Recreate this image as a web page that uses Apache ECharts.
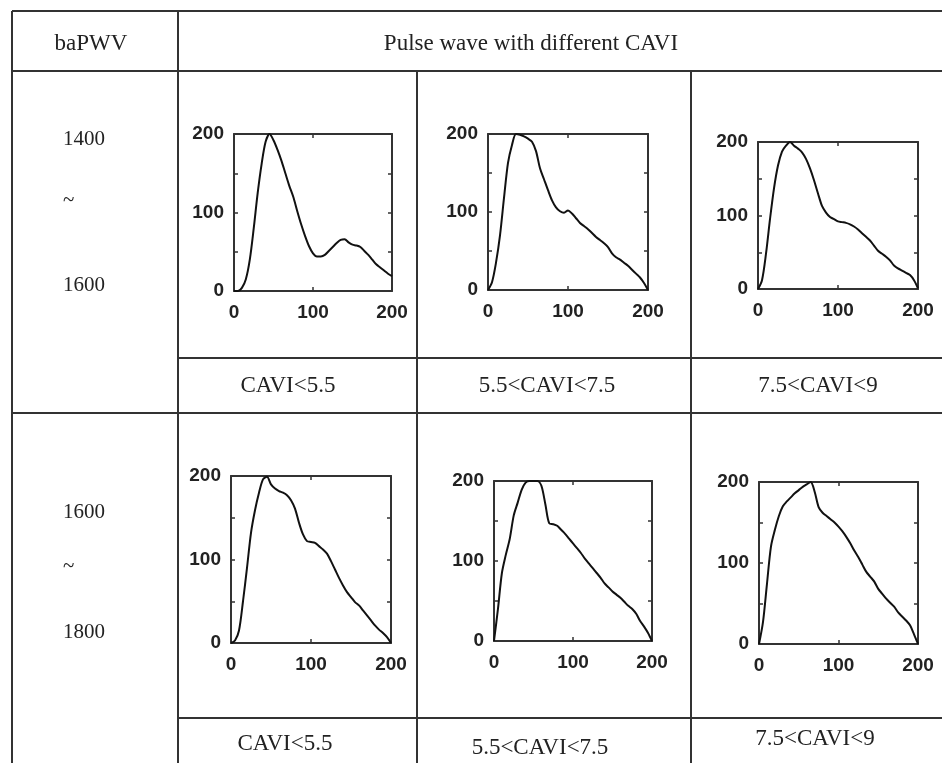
<!DOCTYPE html>
<html>
<head>
<meta charset="utf-8">
<script src="https://cdn.jsdelivr.net/npm/echarts@6/dist/echarts.min.js"></script>
<style>
html,body{margin:0;padding:0;background:#fff;}
#chart{width:942px;height:763px;}
</style>
</head>
<body>
<div id="chart"></div>
<script>
// ---- data ----
const sampleX = [0,5,10,15,20,25,30,35,40,45,50,55,60,65,70,75,80,85,90,95,100,105,110,115,120,125,130,135,140,145,150,155,160,165,170,175,180,185,190,195,200];

const wave_1400_low  = [0,0,4,15,40,80,125,162,190,200,192,180,166,150,134,120,102,85,70,57,48,44,44,46,51,56,61,65,66,62,59,58,56,51,46,40,34,30,26,22,19];
const wave_1400_mid  = [0,10,35,70,118,163,186,200,199,197,194,190,178,156,142,128,115,106,101,99,102,98,92,86,82,78,73,68,64,60,55,47,42,39,35,31,26,21,16,9,0];
const wave_1400_high = [0,12,48,95,137,168,187,195,200,195,191,186,177,164,148,130,113,104,98,95,92,91,90,88,85,81,76,71,66,59,52,48,44,39,32,28,25,22,19,12,1];
const wave_1600_low  = [0,3,15,50,90,132,159,180,196,199,190,185,182,180,177,171,161,144,130,122,121,120,116,112,107,98,88,78,69,61,55,49,45,39,33,27,21,16,12,7,0];
const wave_1600_mid  = [0,40,85,108,128,157,173,189,198,200,200,200,194,171,147,146,144,139,134,128,122,116,110,103,97,91,85,79,72,67,62,58,54,49,44,40,34,25,18,10,0];
const wave_1600_high = [0,27,74,120,141,158,170,176,181,186,190,194,197,200,188,169,162,158,154,150,145,139,132,124,115,107,98,89,83,77,68,62,56,51,46,39,34,29,23,12,0];

const panelWaves = [wave_1400_low, wave_1400_mid, wave_1400_high, wave_1600_low, wave_1600_mid, wave_1600_high];

const headerLabels = ['baPWV', 'Pulse wave with different CAVI'];
const rowRangeLabels = [['1400', '~', '1600'], ['1600', '~', '1800']];
const caviLabels = ['CAVI<5.5', '5.5<CAVI<7.5', '7.5<CAVI<9'];
const xTickValues = [0, 100, 200];
const yTickLabels = [0, 100, 200];

// ---- layout ----
const panelBoxes = [
  {left:234, top:134, width:158, height:157},
  {left:488, top:134, width:160, height:156},
  {left:758, top:142, width:160, height:147},
  {left:231, top:476, width:160, height:167},
  {left:494, top:481, width:158, height:160},
  {left:759, top:482, width:159, height:162}
];

const lineColor = '#333';
const textColor = '#222';
const serif = '"Liberation Serif", "Times New Roman", serif';
const sans = '"Liberation Sans", Arial, sans-serif';

const grids = [], xAxes = [], yAxes = [], series = [];
const axisLineStyle = {color: lineColor, width: 2};
const tickStyle = {color: lineColor, width: 1.5};

panelBoxes.forEach((b, i) => {
  grids.push(Object.assign({show:false, outerBoundsMode:'none', containLabel:false}, b));
  // bottom & top x axes
  xAxes.push({gridIndex:i, type:'value', min:0, max:200, interval:100, position:'bottom',
    axisLine:{show:true, onZero:false, lineStyle:axisLineStyle},
    axisTick:{show:true, inside:true, length:4, lineStyle:tickStyle},
    axisLabel:{show:true, margin:12, hideOverlap:false, fontFamily:sans, fontWeight:'bold', fontSize:19, color:textColor,
      formatter:v => xTickValues.includes(v) ? String(v) : ''},
    splitLine:{show:false}});
  xAxes.push({gridIndex:i, type:'value', min:0, max:200, interval:100, position:'top',
    axisLine:{show:true, onZero:false, lineStyle:axisLineStyle},
    axisTick:{show:true, inside:true, length:4, lineStyle:tickStyle},
    axisLabel:{show:false}, splitLine:{show:false}});
  // left & right y axes
  yAxes.push({gridIndex:i, type:'value', min:0, max:200, interval:50, position:'left',
    axisLine:{show:true, onZero:false, lineStyle:axisLineStyle},
    axisTick:{show:true, inside:true, length:4, lineStyle:tickStyle},
    axisLabel:{show:true, margin:10, hideOverlap:false, fontFamily:sans, fontWeight:'bold', fontSize:19, color:textColor,
      formatter:v => yTickLabels.includes(v) ? String(v) : ''},
    splitLine:{show:false}});
  yAxes.push({gridIndex:i, type:'value', min:0, max:200, interval:50, position:'right',
    axisLine:{show:true, onZero:false, lineStyle:axisLineStyle},
    axisTick:{show:true, inside:true, length:4, lineStyle:tickStyle},
    axisLabel:{show:false}, splitLine:{show:false}});
  series.push({type:'line', xAxisIndex:2*i, yAxisIndex:2*i, showSymbol:false, smooth:0.3,
    clip:true, silent:true, animation:false,
    lineStyle:{color:'#111', width:2},
    data: sampleX.map((x, k) => [x, panelWaves[i][k]])});
});

// ---- table graphics ----
function hline(y, x1, x2){ return {type:'line', shape:{x1:x1, y1:y, x2:x2, y2:y}, style:{stroke:lineColor, lineWidth:2}}; }
function vline(x, y1, y2){ return {type:'line', shape:{x1:x, y1:y1, x2:x, y2:y2}, style:{stroke:lineColor, lineWidth:2}}; }
function txt(s, x, y, size, align){ return {type:'text', x:x, y:y, style:{text:s, fill:textColor, font:size + 'px ' + serif, textAlign:align || 'center', textVerticalAlign:'middle'}}; }

const graphics = [
  hline(11, 12, 942), hline(71, 12, 942), hline(358, 178, 942), hline(413, 12, 942), hline(718, 178, 942),
  vline(12, 11, 763), vline(178, 11, 763), vline(417, 71, 763), vline(691, 71, 763),
  txt(headerLabels[0], 91, 44, 23), txt(headerLabels[1], 531, 44, 23),
  txt(rowRangeLabels[0][0], 63, 139, 21, 'left'), txt(rowRangeLabels[0][1], 63, 200, 21, 'left'), txt(rowRangeLabels[0][2], 63, 285, 21, 'left'),
  txt(rowRangeLabels[1][0], 63, 512, 21, 'left'), txt(rowRangeLabels[1][1], 63, 566, 21, 'left'), txt(rowRangeLabels[1][2], 63, 632, 21, 'left'),
  txt(caviLabels[0], 288, 386, 23), txt(caviLabels[1], 547, 386, 23), txt(caviLabels[2], 818, 386, 23),
  txt(caviLabels[0], 285, 744, 23), txt(caviLabels[1], 540, 748, 23), txt(caviLabels[2], 815, 739, 23)
];

const chart = echarts.init(document.getElementById('chart'), null, {renderer:'canvas'});
chart.setOption({
  animation:false,
  backgroundColor:'#fff',
  grid:grids, xAxis:xAxes, yAxis:yAxes, series:series,
  graphic:graphics
});
</script>
</body>
</html>
